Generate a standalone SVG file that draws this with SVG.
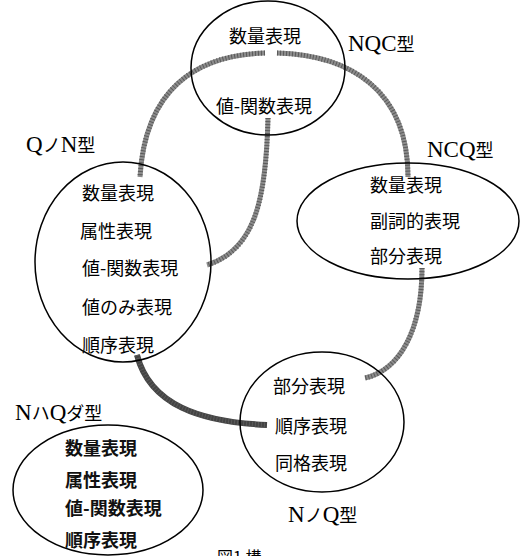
<svg xmlns="http://www.w3.org/2000/svg" width="522" height="556" viewBox="0 0 522 556">
<style>
.bg{fill:#fff}
.ell{fill:none;stroke:#000;stroke-width:1.5}
.jp{font-family:"Noto Sans CJK JP","Noto Sans CJK SC",sans-serif;font-size:18px;fill:#000}
.jb{font-family:"Noto Sans CJK JP","Noto Sans CJK SC",sans-serif;font-size:18px;font-weight:bold;fill:#111}
.lab{font-family:"Liberation Serif","Times New Roman",serif;font-size:23px;fill:#000}
.kata{font-family:"Noto Sans CJK JP",sans-serif;font-size:18px}
.con{fill:none;stroke:#8c8c8c;stroke-width:5}
.tex{fill:none;stroke:#5a5a5a;stroke-width:5;stroke-dasharray:1 2}
.dark{fill:none;stroke:#444;stroke-width:6}
</style>
<rect class="bg" width="522" height="556"/>
<g id="connectors">
<path class="con" d="M265,53 C195,55 145,90 140,177"/>
<path class="tex" d="M265,53 C195,55 145,90 140,177"/>
<path class="con" d="M277,53 C350,55 408,90 408,177"/>
<path class="tex" d="M277,53 C350,55 408,90 408,177"/>
<path class="con" d="M268,118 C266,200 255,250 207,265"/>
<path class="tex" d="M268,118 C266,200 255,250 207,265"/>
<path class="con" d="M422,268 C422,330 400,370 365,378"/>
<path class="tex" d="M422,268 C422,330 400,370 365,378"/>
<path class="dark" d="M137,355 C150,405 200,422 267,425"/>
<path class="tex" d="M137,355 C150,405 200,422 267,425"/>
</g>
<g id="NQC">
<ellipse class="ell" cx="268" cy="68" rx="77" ry="67"/>
<text class="jp" x="265" y="43" text-anchor="middle">数量表現</text>
<text class="jp" x="264" y="113" text-anchor="middle">値-関数表現</text>
<text class="lab" x="348" y="51">NQC<tspan class="kata">型</tspan></text>
</g>
<g id="QnoN">
<ellipse class="ell" cx="123" cy="262" rx="88" ry="100"/>
<text class="jp" x="82" y="200">数量表現</text>
<text class="jp" x="80" y="238">属性表現</text>
<text class="jp" x="82" y="275">値-関数表現</text>
<text class="jp" x="82" y="314">値のみ表現</text>
<text class="jp" x="82" y="352">順序表現</text>
<text class="lab" x="26" y="152">Q<tspan class="kata">ノ</tspan>N<tspan class="kata">型</tspan></text>
</g>
<g id="NCQ">
<ellipse class="ell" cx="408" cy="221" rx="111" ry="58"/>
<text class="jp" x="370" y="192">数量表現</text>
<text class="jp" x="370" y="228">副詞的表現</text>
<text class="jp" x="370" y="263">部分表現</text>
<text class="lab" x="427" y="157">NCQ<tspan class="kata">型</tspan></text>
</g>
<g id="NnoQ">
<ellipse class="ell" cx="322" cy="422" rx="82" ry="70"/>
<text class="jp" x="273" y="393">部分表現</text>
<text class="jp" x="275" y="433">順序表現</text>
<text class="jp" x="275" y="470">同格表現</text>
<text class="lab" x="288" y="522">N<tspan class="kata">ノ</tspan>Q<tspan class="kata">型</tspan></text>
</g>
<g id="NhaQda">
<ellipse class="ell" cx="108" cy="490" rx="95" ry="65"/>
<text class="jb" x="65" y="455">数量表現</text>
<text class="jb" x="65" y="487">属性表現</text>
<text class="jb" x="65" y="515">値-関数表現</text>
<text class="jb" x="65" y="547">順序表現</text>
<text class="lab" x="15" y="420">N<tspan class="kata">ハ</tspan>Q<tspan class="kata">ダ型</tspan></text>
</g>
<g id="caption">
<text class="jp" x="217" y="563" style="font-size:16px">図1 構</text>
</g>
</svg>
